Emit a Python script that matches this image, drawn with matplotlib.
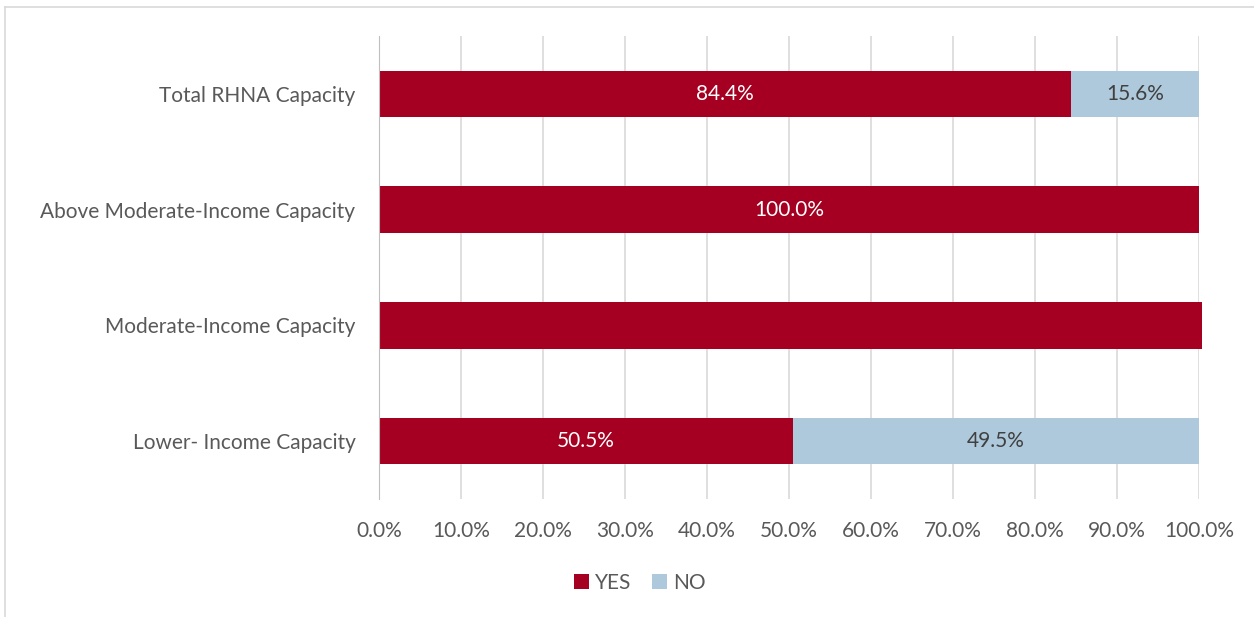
import numpy as np
import matplotlib
matplotlib.use("Agg")
import matplotlib.pyplot as plt
from matplotlib.lines import Line2D

plt.rcParams['font.family'] = ['Lato', 'DejaVu Sans']

categories = ["Lower- Income Capacity", "Moderate-Income Capacity",
              "Above Moderate-Income Capacity", "Total RHNA Capacity"]
yes_vals = [50.5, 100.4, 100.0, 84.4]
no_vals = [49.5, 0.0, 0.0, 15.6]
yes_labels = ["50.5%", "", "100.0%", "84.4%"]
no_labels = ["49.5%", "", "", "15.6%"]
xticks = np.arange(0, 101, 10)

YES_COLOR = "#A50021"
NO_COLOR = "#AEC9DB"
TEXT = "#595959"
FS = 15

W, H = 1254, 617
fig = plt.figure(figsize=(W / 100, H / 100), dpi=100)
ax = fig.add_axes([379 / W, 1 - 499 / H, (1199 - 379) / W, (499 - 36) / H])

y = np.arange(len(categories))
b1 = ax.barh(y, yes_vals, height=0.4, color=YES_COLOR, label="YES", zorder=3)
b2 = ax.barh(y, no_vals, left=yes_vals, height=0.4, color=NO_COLOR, label="NO", zorder=3)
for p in list(b1) + list(b2):
    p.set_clip_on(False)

for i in range(len(categories)):
    if yes_labels[i]:
        ax.text(yes_vals[i] / 2, i, yes_labels[i], ha='center', va='center',
                color='white', fontsize=FS, zorder=4)
    if no_labels[i]:
        ax.text(yes_vals[i] + no_vals[i] / 2, i, no_labels[i], ha='center', va='center',
                color="#404040", fontsize=FS, zorder=4)

ax.set_xlim(0, 100)
ax.set_ylim(-0.5, 3.5)
ax.set_yticks(y)
ax.set_yticklabels(categories, fontsize=FS, color=TEXT)
ax.set_xticks(xticks)
ax.set_xticklabels([f"{v:.1f}%" for v in xticks], fontsize=FS, color=TEXT)
ax.tick_params(axis='y', length=0, pad=17)
ax.tick_params(axis='x', length=0, pad=16)
ax.grid(axis='x', color="#D9D9D9", linewidth=1.2, zorder=0)
for s in ['top', 'right', 'bottom']:
    ax.spines[s].set_visible(False)
ax.spines['left'].set_color("#BFBFBF")
ax.spines['left'].set_zorder(5)

ax.legend(loc='center', bbox_to_anchor=(640 / W, 1 - 583 / H), bbox_transform=fig.transFigure,
          ncol=2, frameon=False, fontsize=FS, labelcolor=TEXT, handlelength=0.7,
          handleheight=0.7, handletextpad=0.3, columnspacing=1.0)

# outer chart border (only top and left visible in the crop)
fig.add_artist(Line2D([5 / W, 5 / W], [0, 1 - 7 / H], color="#D9D9D9", lw=1.2, transform=fig.transFigure))
fig.add_artist(Line2D([5 / W, 1], [1 - 7 / H, 1 - 7 / H], color="#D9D9D9", lw=1.2, transform=fig.transFigure))

fig.savefig("out.png", dpi=100)
